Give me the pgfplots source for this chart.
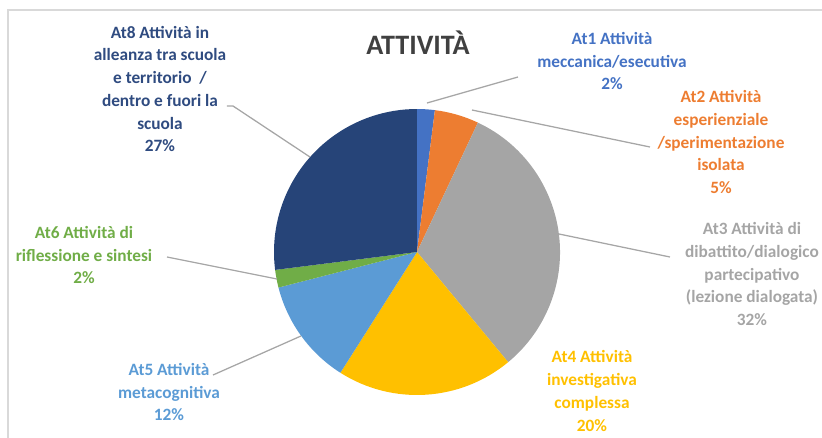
\documentclass[border=0pt]{standalone}
\usepackage{fontspec}
\setmainfont{Carlito}
\usepackage{pgfplots}
\usepackage{pgfplotstable}
\pgfplotsset{compat=1.18}

\definecolor{c0}{HTML}{4472C4}
\definecolor{c1}{HTML}{ED7D31}
\definecolor{c2}{HTML}{A5A5A5}
\definecolor{c3}{HTML}{FFC000}
\definecolor{c4}{HTML}{5B9BD5}
\definecolor{c5}{HTML}{70AD47}
\definecolor{c6}{HTML}{264478}
\definecolor{t6}{HTML}{2F4B80}
\definecolor{leader}{HTML}{A6A6A6}
\definecolor{frame}{HTML}{D9D9D9}

% slice values in percent, clockwise from the top
\pgfplotstableread[col sep=comma]{
label,value
At1,2
At2,5
At3,32
At4,20
At5,12
At6,2
At8,27
}\slices

\begin{document}
\begin{tikzpicture}
\useasboundingbox (0,0) rectangle (205.5mm,109.5mm);
\begin{axis}[
    at={(0,0)}, anchor=south west,
    scale only axis,
    x=0.25mm, y=0.25mm,
    xmin=0, xmax=822, ymin=0, ymax=438,
    y dir=reverse,
    hide axis,
    clip=false,
]
% frame of the chart area
\draw[frame, line width=0.8pt] (axis cs:8,438) -- (axis cs:8,10) -- (axis cs:822,10);

% pie
\def\startang{90}
\pgfplotsforeachungrouped \i in {0,...,6}{
    \pgfplotstablegetelem{\i}{value}\of\slices
    \pgfmathsetmacro\endang{\startang-3.6*\pgfplotsretval}
    \edef\temp{\noexpand\fill[c\i] (axis cs:417,252) -- ++(\startang:35.75mm)
        arc[start angle=\startang, end angle=\endang, radius=35.75mm] -- cycle;}
    \temp
    \global\let\startang\endang
}

% leader lines
\draw[leader, line width=0.9pt] (axis cs:427,103) -- (axis cs:518,77);
\draw[leader, line width=0.9pt] (axis cs:472,110) -- (axis cs:650,147);
\draw[leader, line width=0.9pt] (axis cs:559,234) -- (axis cs:670,257);
\draw[leader, line width=0.9pt] (axis cs:301,336) -- (axis cs:213,375);
\draw[leader, line width=0.9pt] (axis cs:277,279) -- (axis cs:167,257);
\draw[leader, line width=0.9pt] (axis cs:310,157) -- (axis cs:233,106) -- (axis cs:227,106);

% title
\node[text=black!75, font=\fontsize{20}{24}\selectfont\bfseries] at (axis cs:418,43) {ATTIVITÀ};

% data labels
\tikzset{lab/.style={align=center, inner sep=0pt, font=\fontsize{12.3}{16.2}\selectfont\bfseries}}
\node[lab, text=c0] at (axis cs:612,61) {At1 Attività\\meccanica/esecutiva\\2\%};
\node[lab, text=c1] at (axis cs:721,142) {At2 Attività\\esperienziale\\/sperimentazione\\isolata\\5\%};
\node[lab, text=c2] at (axis cs:752,274) {At3 Attività di\\dibattito/dialogico\\partecipativo\\(lezione dialogata)\\32\%};
\node[lab, text=c3] at (axis cs:592,391) {At4 Attività\\investigativa\\complessa\\20\%};
\node[lab, text=c4] at (axis cs:169,392) {At5 Attività\\metacognitiva\\12\%};
\node[lab, text=c5] at (axis cs:84,255) {At6 Attività di\\riflessione e sintesi\\2\%};
\node[lab, text=t6] at (axis cs:160,89) {At8 Attività in\\alleanza tra scuola\\e territorio \ /\\dentro e fuori la\\scuola\\27\%};
\end{axis}
\end{tikzpicture}
\end{document}
